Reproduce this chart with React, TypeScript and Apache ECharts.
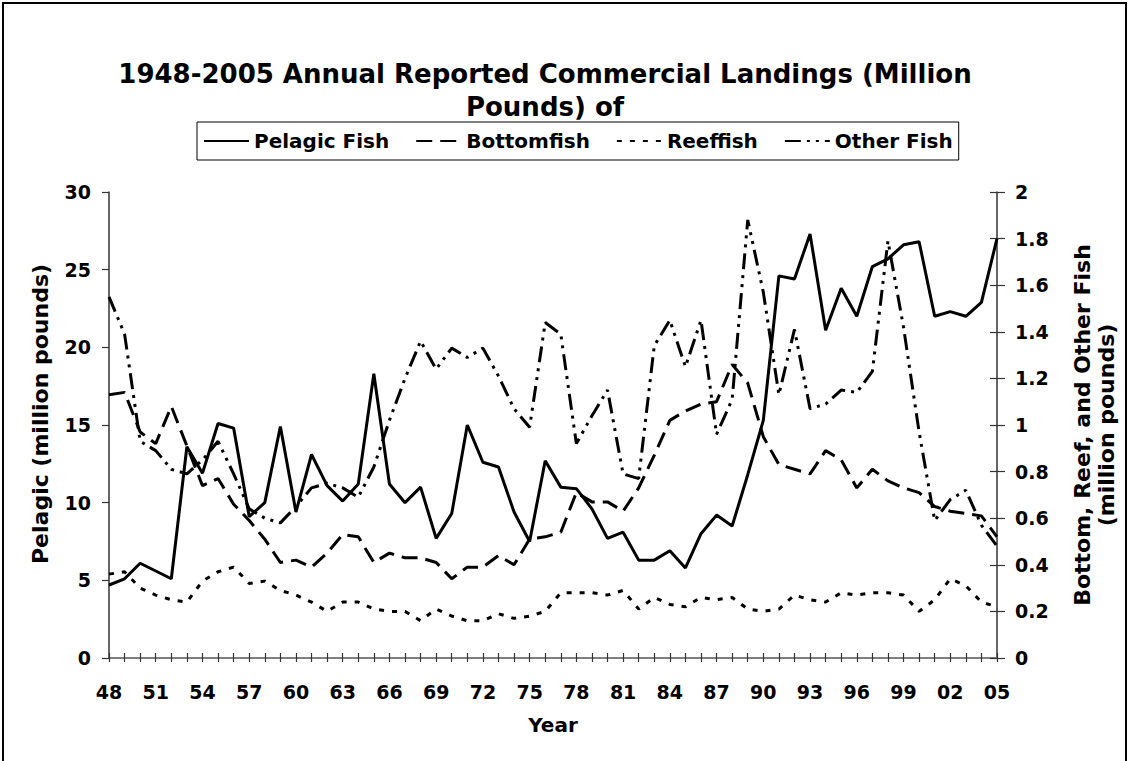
import React, { useEffect, useRef } from "react";
import * as echarts from "echarts";

const years = [
  "48", "49", "50", "51", "52", "53", "54", "55", "56", "57",
  "58", "59", "60", "61", "62", "63", "64", "65", "66", "67",
  "68", "69", "70", "71", "72", "73", "74", "75", "76", "77",
  "78", "79", "80", "81", "82", "83", "84", "85", "86", "87",
  "88", "89", "90", "91", "92", "93", "94", "95", "96", "97",
  "98", "99", "00", "01", "02", "03", "04", "05",
];

// million pounds, left axis
const pelagic = [
  4.7, 5.1, 6.1, 5.6, 5.1, 13.6, 11.9, 15.1, 14.8, 9.1,
  10.0, 14.9, 9.4, 13.1, 11.1, 10.1, 11.2, 18.3, 11.2, 10.0,
  11.0, 7.7, 9.3, 15.0, 12.6, 12.3, 9.4, 7.5, 12.7, 11.0,
  10.9, 9.6, 7.7, 8.1, 6.3, 6.3, 6.9, 5.8, 8.0, 9.2,
  8.5, 11.8, 15.3, 24.6, 24.4, 27.3, 21.1, 23.8, 22.0, 25.2,
  25.7, 26.6, 26.8, 22.0, 22.3, 22.0, 22.9, 27.0,
];

// million pounds, right axis
const bottomfish = [
  1.13, 1.14, 0.97, 0.92, 1.08, 0.91, 0.74, 0.77, 0.66, 0.59,
  0.51, 0.41, 0.42, 0.39, 0.45, 0.53, 0.52, 0.41, 0.45, 0.43,
  0.43, 0.41, 0.34, 0.39, 0.39, 0.44, 0.40, 0.51, 0.52, 0.54,
  0.71, 0.67, 0.67, 0.63, 0.73, 0.87, 1.02, 1.06, 1.09, 1.10,
  1.26, 1.18, 0.95, 0.83, 0.81, 0.79, 0.89, 0.85, 0.73, 0.81,
  0.76, 0.73, 0.71, 0.65, 0.63, 0.62, 0.61, 0.52,
];

const reeffish = [
  0.36, 0.37, 0.30, 0.27, 0.25, 0.24, 0.33, 0.37, 0.39, 0.32,
  0.33, 0.29, 0.27, 0.24, 0.20, 0.24, 0.24, 0.21, 0.20, 0.20,
  0.16, 0.21, 0.18, 0.16, 0.16, 0.19, 0.17, 0.18, 0.20, 0.28,
  0.28, 0.28, 0.27, 0.29, 0.21, 0.26, 0.23, 0.22, 0.26, 0.25,
  0.26, 0.21, 0.20, 0.21, 0.27, 0.25, 0.24, 0.28, 0.27, 0.28,
  0.28, 0.27, 0.20, 0.25, 0.34, 0.31, 0.24, 0.22,
];

const otherFish = [
  1.55, 1.39, 0.93, 0.89, 0.81, 0.79, 0.85, 0.93, 0.79, 0.64,
  0.60, 0.58, 0.65, 0.73, 0.75, 0.73, 0.69, 0.82, 1.02, 1.20,
  1.36, 1.24, 1.33, 1.29, 1.33, 1.21, 1.07, 0.99, 1.44, 1.39,
  0.92, 1.04, 1.15, 0.79, 0.77, 1.34, 1.45, 1.25, 1.45, 0.96,
  1.11, 1.88, 1.57, 1.13, 1.41, 1.07, 1.09, 1.15, 1.14, 1.23,
  1.79, 1.42, 0.97, 0.59, 0.68, 0.72, 0.57, 0.48,
];

const seriesNames = ["Pelagic Fish", "Bottomfish", "Reeffish", "Other Fish"];
const titleText = "1948-2005 Annual Reported Commercial Landings (Million\nPounds) of";
const leftName = "Pelagic (million pounds)";
const rightName = "Bottom, Reef, and Other Fish\n(million pounds)";
const xName = "Year";

const FONT = '"DejaVu Sans", Verdana, sans-serif';

export default function App() {
  const ref = useRef<HTMLDivElement>(null);

  useEffect(() => {
    if (!ref.current) return;
    const chart = echarts.init(ref.current, null, { renderer: "svg" });
    const axisColor = "#333";
    const labelStyle = {
      color: "#000",
      fontFamily: FONT,
      fontWeight: "bold" as const,
      fontSize: 19,
    };
    const option: any = {
      animation: false,
      backgroundColor: "#fff",
      grid: { left: 109, right: 133, top: 192, bottom: 103, containLabel: false },
      legend: {
        data: seriesNames,
        left: 197,
        top: 122,
        orient: "horizontal",
        itemWidth: 45,
        itemHeight: 12,
        itemGap: 26,
        padding: [9, 6, 9, 6],
        borderColor: "#000",
        borderWidth: 1,
        itemStyle: { opacity: 0 },
        textStyle: { color: "#000", fontFamily: FONT, fontWeight: "bold", fontSize: 20 },
      },
      xAxis: [
        {
          type: "category",
          data: years,
          boundaryGap: false,
          position: "bottom",
          axisLine: { lineStyle: { color: axisColor, width: 1.5 } },
          axisTick: { interval: 0, length: 4, lineStyle: { color: axisColor, width: 1.2 } },
          axisLabel: { ...labelStyle, interval: 2, margin: 24 },
          splitLine: { show: false },
        },
        {
          type: "category",
          data: years,
          boundaryGap: false,
          position: "bottom",
          axisLine: { show: false },
          axisTick: { inside: true, interval: 0, length: 5, lineStyle: { color: axisColor, width: 1.2 } },
          axisLabel: { show: false },
          splitLine: { show: false },
        },
        {
          type: "category",
          data: years,
          boundaryGap: false,
          position: "top",
          axisLine: { lineStyle: { color: "#888", width: 1.5 } },
          axisTick: { show: false },
          axisLabel: { show: false },
          splitLine: { show: false },
        },
      ],
      yAxis: [
        {
          type: "value",
          min: 0,
          max: 30,
          interval: 5,
          position: "left",
          axisLine: { show: true, lineStyle: { color: axisColor, width: 1.5 } },
          axisTick: { show: true, length: 7, lineStyle: { color: axisColor, width: 1.2 } },
          axisLabel: { ...labelStyle, margin: 18 },
          splitLine: { show: false },
        },
        {
          type: "value",
          min: 0,
          max: 2,
          interval: 0.2,
          position: "right",
          axisLine: { show: true, lineStyle: { color: axisColor, width: 1.5 } },
          axisTick: { show: true, length: 8, lineStyle: { color: axisColor, width: 1.2 } },
          axisLabel: { ...labelStyle, margin: 18 },
          splitLine: { show: false },
        },
        {
          type: "value",
          min: 0,
          max: 2,
          interval: 0.2,
          position: "right",
          axisLine: { show: false },
          axisTick: { show: true, inside: true, length: 7, lineStyle: { color: axisColor, width: 1.2 } },
          axisLabel: { show: false },
          splitLine: { show: false },
        },
      ],
      series: [
        {
          name: seriesNames[0],
          type: "line",
          data: pelagic,
          yAxisIndex: 0,
          symbol: "none",
          lineStyle: { color: "#000", width: 3, type: "solid" },
          itemStyle: { color: "#000" },
        },
        {
          name: seriesNames[1],
          type: "line",
          data: bottomfish,
          yAxisIndex: 1,
          symbol: "none",
          lineStyle: { color: "#000", width: 3, type: [16, 8] },
          itemStyle: { color: "#000" },
        },
        {
          name: seriesNames[2],
          type: "line",
          data: reeffish,
          yAxisIndex: 1,
          symbol: "none",
          lineStyle: { color: "#000", width: 3, type: [5, 8] },
          itemStyle: { color: "#000" },
        },
        {
          name: seriesNames[3],
          type: "line",
          data: otherFish,
          yAxisIndex: 1,
          symbol: "none",
          lineStyle: { color: "#000", width: 3, type: [16, 6, 3, 6, 3, 6] },
          itemStyle: { color: "#000" },
        },
      ],
      graphic: [
        {
          type: "rect",
          shape: { x: 3, y: 3, width: 1123, height: 800 },
          style: { fill: "none", stroke: "#000", lineWidth: 2 },
          silent: true,
        },
        {
          type: "text",
          x: 545,
          y: 90,
          style: {
            text: titleText,
            textAlign: "center",
            textVerticalAlign: "middle",
            font: `bold 26px ${FONT}`,
            lineHeight: 33,
            fill: "#000",
          },
        },
        {
          type: "text",
          x: 40,
          y: 414,
          rotation: Math.PI / 2,
          style: {
            text: leftName,
            textAlign: "center",
            textVerticalAlign: "middle",
            font: `bold 22px ${FONT}`,
            fill: "#000",
          },
        },
        {
          type: "text",
          x: 1094,
          y: 425,
          rotation: Math.PI / 2,
          style: {
            text: rightName,
            textAlign: "center",
            textVerticalAlign: "middle",
            font: `bold 22px ${FONT}`,
            lineHeight: 24,
            fill: "#000",
          },
        },
        {
          type: "text",
          x: 553,
          y: 725,
          style: {
            text: xName,
            textAlign: "center",
            textVerticalAlign: "middle",
            font: `bold 20px ${FONT}`,
            fill: "#000",
          },
        },
      ],
    };
    chart.setOption(option);
    return () => chart.dispose();
  }, []);

  return (
    <div
      ref={ref}
      style={{ position: "fixed", left: 0, top: 0, width: 1130, height: 761, background: "#fff" }}
    />
  );
}
